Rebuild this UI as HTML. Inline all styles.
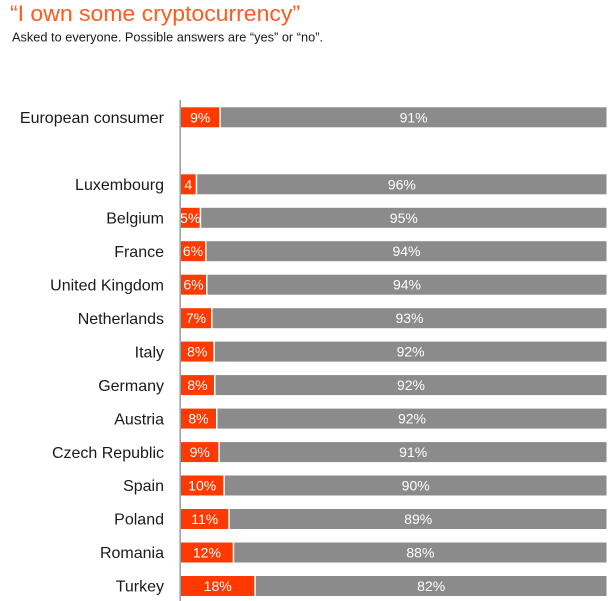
<!DOCTYPE html>
<html>
<head>
<meta charset="utf-8">
<style>
  html, body { margin:0; padding:0; background:#ffffff; }
  body { width:615px; height:601px; overflow:hidden; }
  svg { display:block; }
  .lbl { font-family:"Liberation Sans", sans-serif; font-size:16px; fill:#1a1a1a; text-anchor:end; }
  .val { font-family:"Liberation Sans", sans-serif; font-size:14px; fill:#ffffff; text-anchor:middle; }
</style>
</head>
<body>
<svg width="615" height="601" viewBox="0 0 615 601" xmlns="http://www.w3.org/2000/svg">
  <text x="10" y="21" font-family="Liberation Sans, sans-serif" font-size="22" fill="#FF5A1F" textLength="290" lengthAdjust="spacingAndGlyphs">“I own some cryptocurrency”</text>
  <text x="12" y="41.5" font-family="Liberation Sans, sans-serif" font-size="13" fill="#1a1a1a" textLength="311" lengthAdjust="spacingAndGlyphs">Asked to everyone. Possible answers are “yes” or “no”.</text>

  <!-- rows -->
  <g id="rows">
    <!-- European consumer -->
    <rect x="181" y="107.3" width="38.3" height="20" fill="#FF3A00"/>
    <rect x="220.8" y="107.3" width="385.7" height="20" fill="#8B8B8B"/>
    <text class="lbl" x="164" y="123">European consumer</text>
    <text class="val" x="200.2" y="122.3">9%</text>
    <text class="val" x="413.6" y="122.3">91%</text>

    <!-- Luxembourg -->
    <rect x="181" y="174.3" width="14.7" height="20" fill="#FF3A00"/>
    <rect x="197.2" y="174.3" width="409.3" height="20" fill="#8B8B8B"/>
    <text class="lbl" x="164" y="190">Luxembourg</text>
    <text class="val" x="188.3" y="189.3">4</text>
    <text class="val" x="401.8" y="189.3">96%</text>

    <!-- Belgium -->
    <rect x="181" y="207.8" width="18.7" height="20" fill="#FF3A00"/>
    <rect x="201.2" y="207.8" width="405.3" height="20" fill="#8B8B8B"/>
    <text class="lbl" x="164" y="223.5">Belgium</text>
    <text class="val" x="190.3" y="222.8">5%</text>
    <text class="val" x="403.8" y="222.8">95%</text>

    <!-- France -->
    <rect x="181" y="241.2" width="24" height="20" fill="#FF3A00"/>
    <rect x="206.5" y="241.2" width="400" height="20" fill="#8B8B8B"/>
    <text class="lbl" x="164" y="256.9">France</text>
    <text class="val" x="193" y="256.2">6%</text>
    <text class="val" x="406.5" y="256.2">94%</text>

    <!-- United Kingdom -->
    <rect x="181" y="274.7" width="25" height="20" fill="#FF3A00"/>
    <rect x="207.5" y="274.7" width="399" height="20" fill="#8B8B8B"/>
    <text class="lbl" x="164" y="290.4">United Kingdom</text>
    <text class="val" x="193.5" y="289.7">6%</text>
    <text class="val" x="407" y="289.7">94%</text>

    <!-- Netherlands -->
    <rect x="181" y="308.2" width="30" height="20" fill="#FF3A00"/>
    <rect x="212.5" y="308.2" width="394" height="20" fill="#8B8B8B"/>
    <text class="lbl" x="164" y="323.9">Netherlands</text>
    <text class="val" x="196" y="323.2">7%</text>
    <text class="val" x="409.5" y="323.2">93%</text>

    <!-- Italy -->
    <rect x="181" y="341.6" width="32.3" height="20" fill="#FF3A00"/>
    <rect x="214.8" y="341.6" width="391.7" height="20" fill="#8B8B8B"/>
    <text class="lbl" x="164" y="357.3">Italy</text>
    <text class="val" x="197.2" y="356.6">8%</text>
    <text class="val" x="410.6" y="356.6">92%</text>

    <!-- Germany -->
    <rect x="181" y="375.1" width="33" height="20" fill="#FF3A00"/>
    <rect x="215.5" y="375.1" width="391" height="20" fill="#8B8B8B"/>
    <text class="lbl" x="164" y="390.8">Germany</text>
    <text class="val" x="197.5" y="390.1">8%</text>
    <text class="val" x="411" y="390.1">92%</text>

    <!-- Austria -->
    <rect x="181" y="408.6" width="35" height="20" fill="#FF3A00"/>
    <rect x="217.5" y="408.6" width="389" height="20" fill="#8B8B8B"/>
    <text class="lbl" x="164" y="424.3">Austria</text>
    <text class="val" x="198.5" y="423.6">8%</text>
    <text class="val" x="412" y="423.6">92%</text>

    <!-- Czech Republic -->
    <rect x="181" y="442.1" width="37.3" height="20" fill="#FF3A00"/>
    <rect x="219.8" y="442.1" width="386.7" height="20" fill="#8B8B8B"/>
    <text class="lbl" x="164" y="457.8">Czech Republic</text>
    <text class="val" x="199.7" y="457.1">9%</text>
    <text class="val" x="413.2" y="457.1">91%</text>

    <!-- Spain -->
    <rect x="181" y="475.5" width="42.3" height="20" fill="#FF3A00"/>
    <rect x="224.8" y="475.5" width="381.7" height="20" fill="#8B8B8B"/>
    <text class="lbl" x="164" y="491.2">Spain</text>
    <text class="val" x="202.2" y="490.5">10%</text>
    <text class="val" x="415.7" y="490.5">90%</text>

    <!-- Poland -->
    <rect x="181" y="509" width="47.3" height="20" fill="#FF3A00"/>
    <rect x="229.8" y="509" width="376.7" height="20" fill="#8B8B8B"/>
    <text class="lbl" x="164" y="524.7">Poland</text>
    <text class="val" x="204.7" y="524">11%</text>
    <text class="val" x="418.2" y="524">89%</text>

    <!-- Romania -->
    <rect x="181" y="542.5" width="51.7" height="20" fill="#FF3A00"/>
    <rect x="234.2" y="542.5" width="372.3" height="20" fill="#8B8B8B"/>
    <text class="lbl" x="164" y="558.2">Romania</text>
    <text class="val" x="206.9" y="557.5">12%</text>
    <text class="val" x="420.4" y="557.5">88%</text>

    <!-- Turkey -->
    <rect x="181" y="576" width="73.3" height="20" fill="#FF3A00"/>
    <rect x="255.8" y="576" width="350.7" height="20" fill="#8B8B8B"/>
    <text class="lbl" x="164" y="591.7">Turkey</text>
    <text class="val" x="217.7" y="591">18%</text>
    <text class="val" x="431.2" y="591">82%</text>
  </g>

  <!-- vertical axis -->
  <line x1="180.2" y1="100" x2="180.2" y2="601" stroke="#9a9a9a" stroke-width="1.5"/>
</svg>
</body>
</html>
